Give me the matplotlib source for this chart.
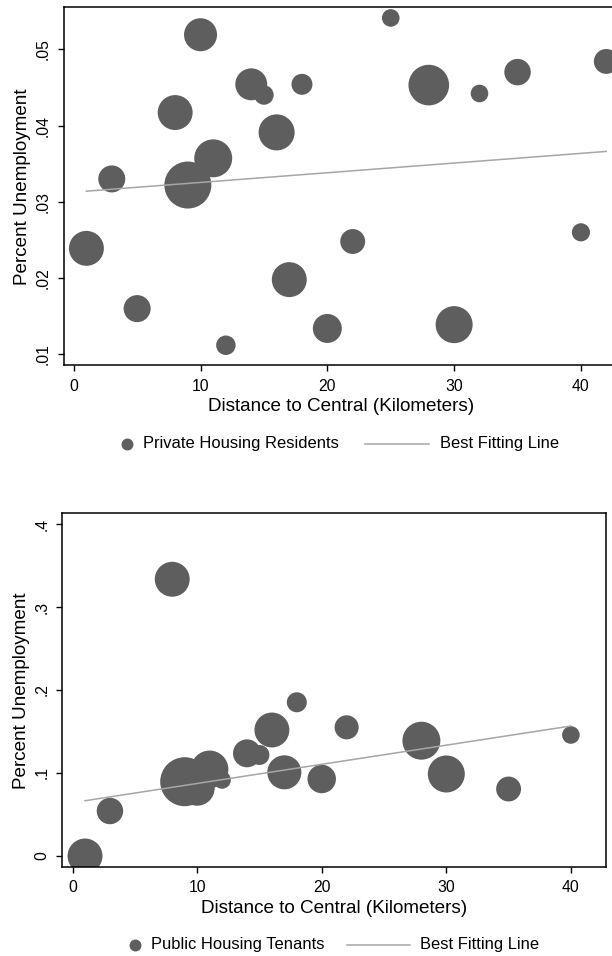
#!/usr/bin/env python3
"""
Bubble charts: unemployment vs. distance to central, private and public housing.
"""

import numpy as np
import matplotlib
matplotlib.use("Agg")
import matplotlib.pyplot as plt
from matplotlib.lines import Line2D

plt.rcParams["font.family"] = ["Liberation Sans", "DejaVu Sans"]

# -------------------------------------------------------------------
# Data
# -------------------------------------------------------------------
private_dist = [1, 3, 5, 8, 9, 10, 11, 12, 14, 15, 16, 17, 18, 20, 22, 25, 28, 30, 32, 35, 40, 42]
private_unemp = [0.0239, 0.0330, 0.0160, 0.0417, 0.0322, 0.0519, 0.0357, 0.0112, 0.0454, 0.0440,
                 0.0391, 0.0198, 0.0454, 0.0134, 0.0248, 0.0541, 0.0453, 0.0139, 0.0442, 0.0470,
                 0.0260, 0.0484]
private_weight = [122, 73, 73, 122, 221, 109, 144, 38, 102, 38, 130, 122, 44, 84, 62, 31,
                  165, 137, 31, 70, 33, 62]
private_fit = (0.03127, 0.000127)  # intercept, slope

public_dist = [1, 3, 8, 9, 10, 11, 12, 14, 15, 16, 17, 18, 20, 22, 28, 30, 35, 40]
public_unemp = [0.0, 0.0542, 0.3334, 0.0895, 0.0816, 0.1044, 0.0916, 0.1237, 0.1217, 0.1518,
                0.1008, 0.1852, 0.0928, 0.155, 0.1389, 0.0988, 0.0807, 0.1458]
public_weight = [122, 70, 122, 240, 122, 141, 31, 78, 40, 122, 116, 40, 81, 58, 144, 137, 62, 31]
public_fit = (0.06429, 0.002308)

x_ticks = [0, 10, 20, 30, 40]
private_yticks = [0.01, 0.02, 0.03, 0.04, 0.05]
private_ylabels = [".01", ".02", ".03", ".04", ".05"]
public_yticks = [0.0, 0.1, 0.2, 0.3, 0.4]
public_ylabels = ["0", ".1", ".2", ".3", ".4"]

# -------------------------------------------------------------------
# Style
# -------------------------------------------------------------------
BUBBLE = "#5e5e5e"
FIT = "#a6a6a6"
SIZE_SCALE = 10 * 0.72 ** 2  # weight -> points^2
TICK_FS = 11.3
LABEL_FS = 13.6
LEGEND_FS = 11.9
W, H = 612, 956


def draw_panel(ax, dist, unemp, weight, fit, yticks, ylabels, xlim, ylim):
    ax.scatter(dist, unemp, s=np.array(weight) * SIZE_SCALE, color=BUBBLE,
               linewidths=0, zorder=2)
    xs = np.array([min(dist), max(dist)])
    ax.plot(xs, fit[0] + fit[1] * xs, color=FIT, lw=1.1, zorder=3)
    ax.set_xlim(*xlim)
    ax.set_ylim(*ylim)
    ax.set_xticks(x_ticks)
    ax.set_yticks(yticks)
    ax.set_yticklabels(ylabels, rotation=90, va="center")
    ax.tick_params(direction="out", length=4.5, width=1, labelsize=TICK_FS, pad=5)
    for s in ax.spines.values():
        s.set_linewidth(1.1)
    ax.set_xlabel("Distance to Central (Kilometers)", fontsize=LABEL_FS, labelpad=3)
    ax.set_ylabel("Percent Unemployment", fontsize=LABEL_FS, labelpad=3)


def legend(label, y, marker_x, text_x, line_x0, line_x1, text2_x):
    yf = 1 - y / H
    fig.add_artist(Line2D([marker_x / W], [yf], marker="o", ls="none", color=BUBBLE,
                          markersize=8.6, markeredgewidth=0))
    fig.add_artist(Line2D([line_x0 / W, line_x1 / W], [yf, yf], color=FIT, lw=1.1))
    fig.text(text_x / W, yf, label, fontsize=LEGEND_FS, ha="left", va="center")
    fig.text(text2_x / W, yf, "Best Fitting Line", fontsize=LEGEND_FS, ha="left", va="center")


fig = plt.figure(figsize=(W / 100, H / 100), dpi=100)

ax1 = fig.add_axes([0.1039, 0.6178, 0.9075, 0.3746])
draw_panel(ax1, private_dist, private_unemp, private_weight, private_fit,
           private_yticks, private_ylabels, (-0.8, 43.0), (0.00856, 0.0555))
ax1.spines["right"].set_visible(False)

ax2 = fig.add_axes([0.1021, 0.0928, 0.8877, 0.3703])
draw_panel(ax2, public_dist, public_unemp, public_weight, public_fit,
           public_yticks, public_ylabels, (-0.81, 42.8), (-0.0136, 0.4129))

legend("Private Housing Residents", 444, 127, 143, 365, 429, 440)
legend("Public Housing Tenants", 945, 135, 151, 347, 410, 420)

fig.savefig("out.png", dpi=100)
plt.close(fig)
